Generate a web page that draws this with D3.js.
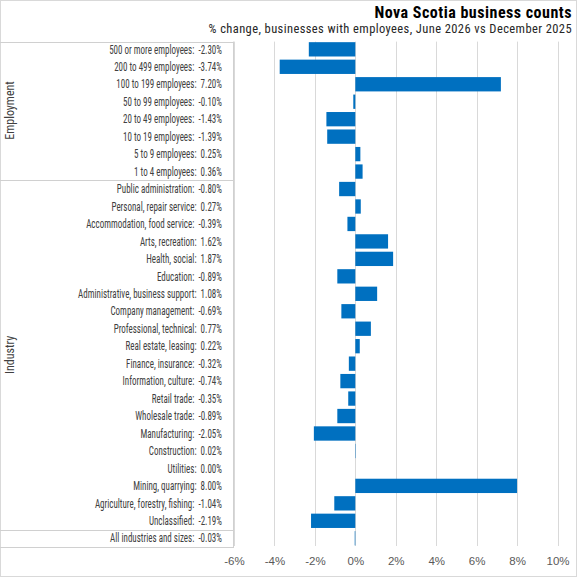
<!DOCTYPE html>
<html>
<head>
<meta charset="utf-8">
<script src="https://cdn.jsdelivr.net/npm/d3@7"></script>
<style>
  html, body { margin: 0; padding: 0; background: #fff; }
  svg { display: block; font-family: "Liberation Sans Narrow", "Arial Narrow", "Roboto Condensed", sans-serif; }
</style>
</head>
<body>
<svg id="chart" width="577" height="577"></svg>
<script>
// chart values
var employmentCats = [
  '500 or more employees', '200 to 499 employees', '100 to 199 employees',
  '50 to 99 employees', '20 to 49 employees', '10 to 19 employees',
  '5 to 9 employees', '1 to 4 employees'
];
var employmentVals = [-2.30, -3.74, 7.20, -0.10, -1.43, -1.39, 0.25, 0.36];

var industryCats = [
  'Public administration', 'Personal, repair service', 'Accommodation, food service',
  'Arts, recreation', 'Health, social', 'Education', 'Administrative, business support',
  'Company management', 'Professional, technical', 'Real estate, leasing',
  'Finance, insurance', 'Information, culture', 'Retail trade', 'Wholesale trade',
  'Manufacturing', 'Construction', 'Utilities', 'Mining, quarrying',
  'Agriculture, forestry, fishing', 'Unclassified'
];
var industryVals = [-0.80, 0.27, -0.39, 1.62, 1.87, -0.89, 1.08, -0.69, 0.77, 0.22,
  -0.32, -0.74, -0.35, -0.89, -2.05, 0.02, 0.00, 8.00, -1.04, -2.19];

var totalCats = ['All industries and sizes'];
var totalVals = [-0.03];

var xTicks = [-6, -4, -2, 0, 2, 4, 6, 8, 10];

var titleText = 'Nova Scotia business counts';
var subtitleText = '% change, businesses with employees, June 2026 vs December 2025';

(function() {
  'use strict';

  var W = 577, H = 577,
      tableLeft = 0, tableRight = 234,
      top = 40.6, bottom = 547,
      labelX = 222,
      barColor = '#0070c0',
      gridColor = '#d9d9d9',
      lineColor = '#d0d0d0';

  // hyphen minus like the source, not the unicode one
  var fmt = d3.formatLocale({
    decimal: '.', thousands: ',', grouping: [3], currency: ['', ''], minus: '-'
  }).format('.2f');

  // one row per category, groups kept in order
  var rows = [];
  function addGroup(group, cats, vals) {
    cats.forEach(function(c, i) {
      rows.push({ group: group, name: c, value: vals[i] });
    });
  }
  addGroup('Employment', employmentCats, employmentVals);
  addGroup('Industry', industryCats, industryVals);
  addGroup('', totalCats, totalVals);

  var svg = d3.select('#chart');

  var x = d3.scaleLinear().domain([-6, 10]).range([234, 557.5]);
  var y = d3.scaleBand()
    .domain(rows.map(function(d) { return d.name; }))
    .range([top, bottom])
    .paddingInner(0.18)
    .paddingOuter(0.09);
  var step = y.step(),
      cellTop = function(name) { return y(name) - step * 0.09; };

  // outer border
  svg.append('rect')
    .attr('x', 0.5).attr('y', 0.5)
    .attr('width', W - 1).attr('height', H - 1)
    .attr('fill', 'none')
    .attr('stroke', gridColor);

  // gridlines
  svg.append('g').attr('class', 'grid')
    .selectAll('line')
    .data(xTicks)
    .enter().append('line')
    .attr('x1', function(d) { return Math.round(x(d)) + 0.5; })
    .attr('x2', function(d) { return Math.round(x(d)) + 0.5; })
    .attr('y1', top + 1)
    .attr('y2', 546)
    .attr('stroke', gridColor);

  // table lines on the left
  var table = svg.append('g').attr('class', 'table');
  var seps = [top + 1, cellTop(industryCats[0]), cellTop(totalCats[0]), bottom];
  table.selectAll('line.h')
    .data(seps)
    .enter().append('line')
    .attr('class', 'h')
    .attr('x1', tableLeft).attr('x2', tableRight)
    .attr('y1', function(d) { return Math.round(d) + 0.5; })
    .attr('y2', function(d) { return Math.round(d) + 0.5; })
    .attr('stroke', lineColor);
  table.append('line')
    .attr('x1', tableRight - 0.5).attr('x2', tableRight - 0.5)
    .attr('y1', top + 1).attr('y2', bottom + 0.5)
    .attr('stroke', lineColor);

  // category labels, value appended; squeezed to match the narrow source font
  svg.append('g').attr('class', 'labels')
    .attr('transform', 'translate(' + labelX + ',0) scale(0.75,1)')
    .selectAll('text')
    .data(rows)
    .enter().append('text')
    .attr('x', 0)
    .attr('y', function(d) { return y(d.name) + y.bandwidth() / 2; })
    .attr('dy', '0.35em')
    .attr('text-anchor', 'end')
    .attr('font-size', 12)
    .attr('fill', '#404040')
    .style('white-space', 'pre')
    .text(function(d) { return d.name + ':  ' + fmt(d.value) + '%'; });

  // group labels, rotated
  var groups = [
    { name: 'Employment', y0: top, y1: cellTop(industryCats[0]) },
    { name: 'Industry', y0: cellTop(industryCats[0]), y1: cellTop(totalCats[0]) }
  ];
  svg.append('g').attr('class', 'groups')
    .selectAll('text')
    .data(groups)
    .enter().append('text')
    .attr('transform', function(d) {
      return 'translate(10,' + ((d.y0 + d.y1) / 2) + ') rotate(-90)';
    })
    .attr('dy', '0.35em')
    .attr('text-anchor', 'middle')
    .attr('font-size', 12)
    .attr('fill', '#404040')
    .text(function(d) { return d.name; });

  // bars
  svg.append('g').attr('class', 'bars')
    .selectAll('rect')
    .data(rows)
    .enter().append('rect')
    .attr('x', function(d) { return x(Math.min(0, d.value)); })
    .attr('y', function(d) { return y(d.name); })
    .attr('width', function(d) { return Math.abs(x(d.value) - x(0)); })
    .attr('height', y.bandwidth())
    .attr('fill', barColor);

  // x axis
  var axis = svg.append('g')
    .attr('transform', 'translate(0,557)')
    .call(d3.axisBottom(x).tickValues(xTicks).tickSize(0).tickPadding(0)
      .tickFormat(function(d) { return d + '%'; }));
  axis.select('.domain').remove();
  axis.selectAll('text')
    .attr('font-size', 11.5)
    .attr('font-family', null)
    .attr('fill', '#595959');

  // titles
  svg.append('text')
    .attr('x', 572).attr('y', 12)
    .attr('dy', '0.35em')
    .attr('text-anchor', 'end')
    .attr('font-size', 16)
    .attr('letter-spacing', 0.5)
    .attr('font-weight', 'bold')
    .attr('fill', '#000')
    .text(titleText);
  svg.append('text')
    .attr('x', 572).attr('y', 29)
    .attr('dy', '0.35em')
    .attr('text-anchor', 'end')
    .attr('font-size', 12.5)
    .attr('letter-spacing', 0.4)
    .attr('fill', '#262626')
    .text(subtitleText);
})();
</script>
</body>
</html>
